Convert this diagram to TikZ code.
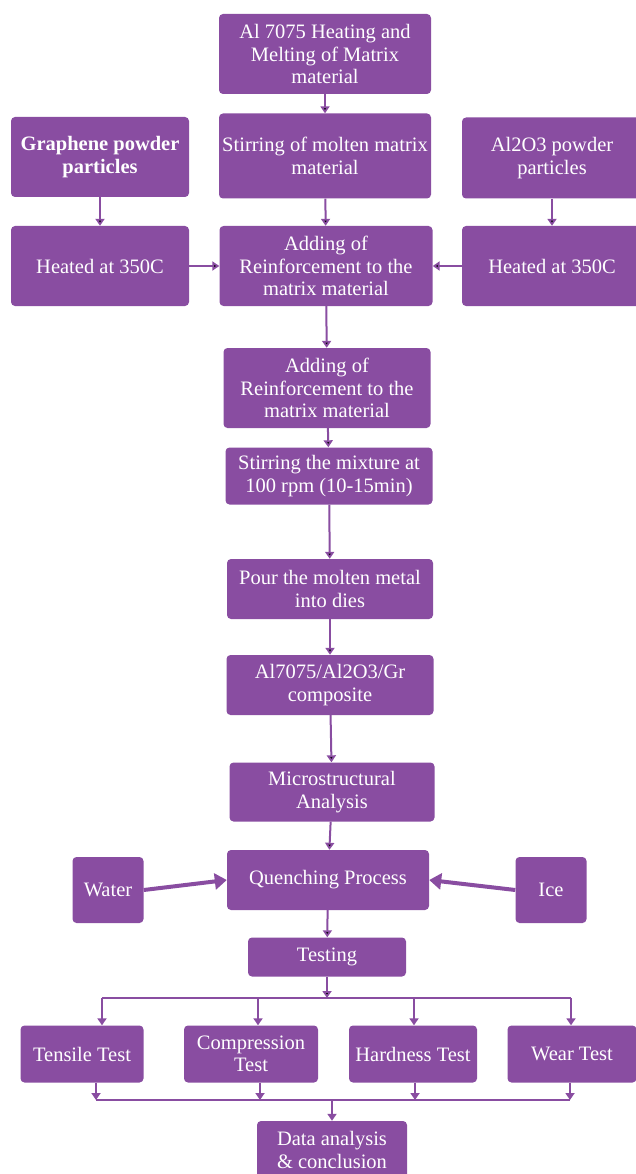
\documentclass[tikz,border=0pt]{standalone}
\usepackage{fontspec}
\setmainfont{Liberation Serif}
\usetikzlibrary{arrows.meta}
\definecolor{flowpurple}{RGB}{137,77,161}
\begin{document}
\begin{tikzpicture}[
        x=1pt, y=-1pt,
        every node/.style={fill=flowpurple, rounded corners=4pt, text=white, align=center, inner sep=0pt, font=\fontsize{20.5}{22.5}\selectfont},
        ar/.style={-{Triangle[width=9pt,length=7pt]}, line width=2pt, draw=flowpurple},
        bigar/.style={-{Triangle[width=16pt,length=12pt]}, line width=4pt, draw=flowpurple},
        bus/.style={line width=2pt, draw=flowpurple},
    ]
    \useasboundingbox (0,0) rectangle (636,1174);

    % preparation of matrix and reinforcement
    \node[minimum width=212pt, minimum height=80pt](heat) at (325,54) {Al 7075 Heating and\\Melting of Matrix\\material};
    \node[minimum width=212pt, minimum height=85pt](stir) at (325,156) {Stirring of molten matrix\\material};
    \node[minimum width=178pt, minimum height=80pt](graphene) at (100,157) {\textbf{Graphene powder}\\\textbf{particles}};
    \node[minimum width=180pt, minimum height=81pt](alo) at (552,158) {Al2O3 powder\\particles};
    \node[minimum width=178pt, minimum height=80pt](heatl) at (100,266) {Heated at 350C};
    \node[minimum width=213pt, minimum height=80pt](add1) at (326,266) {Adding of\\Reinforcement to the\\matrix material};
    \node[minimum width=180pt, minimum height=80pt](heatr) at (552,266) {Heated at 350C};

    % casting
    \node[minimum width=207pt, minimum height=80pt](add2) at (327,388) {Adding of\\Reinforcement to the\\matrix material};
    \node[minimum width=207pt, minimum height=57pt](mix) at (329,476) {Stirring the mixture at\\100 rpm (10-15min)};
    \node[minimum width=206pt, minimum height=60pt](pour) at (330,589) {Pour the molten metal\\into dies};
    \node[minimum width=207pt, minimum height=60pt](comp) at (330,685) {Al7075/Al2O3/Gr\\composite};
    \node[minimum width=205pt, minimum height=59pt](micro) at (332,792) {Microstructural\\Analysis};
    \node[minimum width=202pt, minimum height=60pt](quench) at (328,880) {Quenching Process};
    \node[minimum width=71pt, minimum height=66pt](water) at (108,890) {Water};
    \node[minimum width=71pt, minimum height=66pt](ice) at (551,890) {Ice};
    \node[minimum width=158pt, minimum height=39pt](testing) at (327,957) {Testing};

    % tests
    \node[minimum width=123pt, minimum height=57pt](tensile) at (82,1054) {Tensile Test};
    \node[minimum width=134pt, minimum height=57pt](compr) at (251,1054) {Compression\\Test};
    \node[minimum width=128pt, minimum height=57pt](hard) at (413,1054) {Hardness Test};
    \node[minimum width=129pt, minimum height=57pt](wear) at (572,1054) {Wear Test};
    \node[minimum width=150pt, minimum height=58pt](data) at (332,1150) {Data analysis\\\& conclusion};

    \coordinate (split) at (327,998);
    \coordinate (t1) at (102,998);
    \coordinate (t2) at (258,998);
    \coordinate (t3) at (414,998);
    \coordinate (t4) at (571,998);
    \coordinate (b1) at (96,1100);
    \coordinate (b2) at (260,1100);
    \coordinate (b3) at (415,1100);
    \coordinate (b4) at (570,1100);
    \coordinate (join) at (332,1100);

    \path[ar]
    (heat) edge (stir)
    (stir) edge (add1)
    (graphene) edge (heatl)
    (alo) edge (heatr)
    (heatl) edge (add1)
    (heatr) edge (add1)
    (add1) edge (add2)
    (add2) edge (mix)
    (mix) edge (pour)
    (pour) edge (comp)
    (comp) edge (micro)
    (micro) edge (quench)
    (quench) edge (testing)
    (testing) edge (split)
    ;
    \draw[bigar] (water.east) -- (quench.west);
    \draw[bigar] (ice.west) -- (quench.east);

    \draw[bus] (t1) -- (t4);
    \draw[ar] (t1) -- (t1 |- tensile.north);
    \draw[ar] (t2) -- (t2 |- compr.north);
    \draw[ar] (t3) -- (t3 |- hard.north);
    \draw[ar] (t4) -- (t4 |- wear.north);

    \draw[bus] (b1) -- (b4);
    \draw[ar] (b1 |- tensile.south) -- (b1);
    \draw[ar] (b2 |- compr.south) -- (b2);
    \draw[ar] (b3 |- hard.south) -- (b3);
    \draw[ar] (b4 |- wear.south) -- (b4);
    \draw[ar] (join) -- (data);
\end{tikzpicture}
\end{document}
